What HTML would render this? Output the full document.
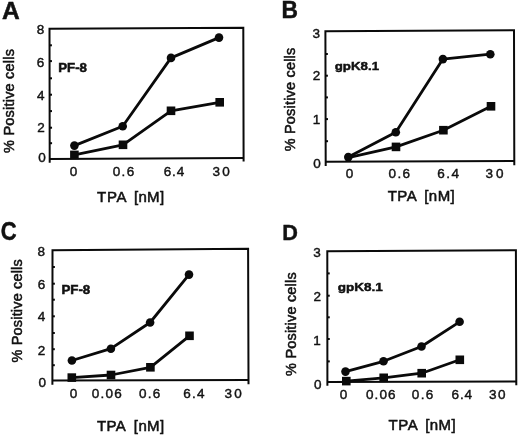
<!DOCTYPE html>
<html><head><meta charset="utf-8"><style>
html,body{margin:0;padding:0;background:#fff;}
svg{display:block;font-family:"Liberation Sans",sans-serif;filter:blur(0.35px);}
text{stroke:#000;stroke-width:0.5px;paint-order:stroke;}
text[font-weight=bold]{stroke-width:0.5px;}
text.big{stroke-width:0.45px;}
text.tk{stroke-width:0.4px;}
</style></head><body>
<svg width="520" height="436" viewBox="0 0 520 436">
<rect width="520" height="436" fill="#fff"/>
<polyline points="49.7,162.8 49.5,28.8 243.3,27.7 243.6,161.4" fill="none" stroke="#0a0a0a" stroke-width="2.0" stroke-linejoin="miter"/>
<line x1="49.7" y1="158.9" x2="243.6" y2="158.0" stroke="#0a0a0a" stroke-width="2.0"/>
<line x1="49.52536510376633" y1="45.3" x2="51.92536510376633" y2="45.3" stroke="#0a0a0a" stroke-width="2.0"/>
<line x1="49.54965411222137" y1="61.1" x2="51.94965411222137" y2="61.1" stroke="#0a0a0a" stroke-width="2.0"/>
<line x1="49.576095311299" y1="78.3" x2="51.976095311299" y2="78.3" stroke="#0a0a0a" stroke-width="2.0"/>
<line x1="49.60130668716372" y1="94.7" x2="52.00130668716372" y2="94.7" stroke="#0a0a0a" stroke-width="2.0"/>
<line x1="49.62651806302844" y1="111.1" x2="52.02651806302844" y2="111.1" stroke="#0a0a0a" stroke-width="2.0"/>
<line x1="49.65203689469639" y1="127.7" x2="52.052036894696386" y2="127.7" stroke="#0a0a0a" stroke-width="2.0"/>
<line x1="49.67586471944658" y1="143.2" x2="52.07586471944658" y2="143.2" stroke="#0a0a0a" stroke-width="2.0"/>
<polyline points="74.4,154.9 123,144.8 171,110.8 219.7,102.3" fill="none" stroke="#0a0a0a" stroke-width="2.8" stroke-linejoin="round"/>
<polyline points="74.4,145.6 122.7,126.2 171,57.9 219,37.6" fill="none" stroke="#0a0a0a" stroke-width="2.8" stroke-linejoin="round"/>
<rect x="70.10" y="150.60" width="8.6" height="8.6" fill="#0a0a0a"/>
<rect x="118.70" y="140.50" width="8.6" height="8.6" fill="#0a0a0a"/>
<rect x="166.70" y="106.50" width="8.6" height="8.6" fill="#0a0a0a"/>
<rect x="215.40" y="98.00" width="8.6" height="8.6" fill="#0a0a0a"/>
<circle cx="74.4" cy="145.6" r="4.3" fill="#0a0a0a"/>
<circle cx="122.7" cy="126.2" r="4.3" fill="#0a0a0a"/>
<circle cx="171" cy="57.9" r="4.3" fill="#0a0a0a"/>
<circle cx="219" cy="37.6" r="4.3" fill="#0a0a0a"/>
<polyline points="325.7,166.0 325.4,31.2 514.0,30.2 514.3,165.3" fill="none" stroke="#0a0a0a" stroke-width="2.0" stroke-linejoin="miter"/>
<line x1="325.7" y1="161.8" x2="514.3" y2="161.0" stroke="#0a0a0a" stroke-width="2.0"/>
<line x1="325.4523736600306" y1="54.0" x2="327.8523736600306" y2="54.0" stroke="#0a0a0a" stroke-width="2.0"/>
<line x1="325.5022205206738" y1="75.7" x2="327.9022205206738" y2="75.7" stroke="#0a0a0a" stroke-width="2.0"/>
<line x1="325.552067381317" y1="97.4" x2="327.95206738131697" y2="97.4" stroke="#0a0a0a" stroke-width="2.0"/>
<line x1="325.6019142419602" y1="119.1" x2="328.00191424196015" y2="119.1" stroke="#0a0a0a" stroke-width="2.0"/>
<line x1="325.65267993874426" y1="141.2" x2="328.05267993874423" y2="141.2" stroke="#0a0a0a" stroke-width="2.0"/>
<polyline points="348.3,157.6 396,146.9 443.4,130.2 491,106.3" fill="none" stroke="#0a0a0a" stroke-width="2.8" stroke-linejoin="round"/>
<polyline points="348.3,157.1 395.8,132.3 442.9,59.1 490.3,54.2" fill="none" stroke="#0a0a0a" stroke-width="2.8" stroke-linejoin="round"/>
<rect x="391.70" y="142.60" width="8.6" height="8.6" fill="#0a0a0a"/>
<rect x="439.10" y="125.90" width="8.6" height="8.6" fill="#0a0a0a"/>
<rect x="486.70" y="102.00" width="8.6" height="8.6" fill="#0a0a0a"/>
<circle cx="348.3" cy="157.1" r="4.3" fill="#0a0a0a"/>
<circle cx="395.8" cy="132.3" r="4.3" fill="#0a0a0a"/>
<circle cx="442.9" cy="59.1" r="4.3" fill="#0a0a0a"/>
<circle cx="490.3" cy="54.2" r="4.3" fill="#0a0a0a"/>
<polyline points="52.4,384.7 52.5,250.2 248.1,248.7 248.5,384.2" fill="none" stroke="#0a0a0a" stroke-width="2.0" stroke-linejoin="miter"/>
<line x1="52.4" y1="380.6" x2="248.5" y2="380.0" stroke="#0a0a0a" stroke-width="2.0"/>
<line x1="52.48711656441718" y1="267.0" x2="54.88711656441718" y2="267.0" stroke="#0a0a0a" stroke-width="2.0"/>
<line x1="52.47430981595092" y1="283.7" x2="54.874309815950916" y2="283.7" stroke="#0a0a0a" stroke-width="2.0"/>
<line x1="52.46203987730061" y1="299.7" x2="54.86203987730061" y2="299.7" stroke="#0a0a0a" stroke-width="2.0"/>
<line x1="52.44930981595092" y1="316.3" x2="54.84930981595092" y2="316.3" stroke="#0a0a0a" stroke-width="2.0"/>
<line x1="52.436503067484665" y1="333.0" x2="54.836503067484664" y2="333.0" stroke="#0a0a0a" stroke-width="2.0"/>
<line x1="52.42407975460122" y1="349.2" x2="54.82407975460122" y2="349.2" stroke="#0a0a0a" stroke-width="2.0"/>
<line x1="52.41180981595092" y1="365.2" x2="54.811809815950916" y2="365.2" stroke="#0a0a0a" stroke-width="2.0"/>
<polyline points="71.8,377.6 111,375.0 150.4,367.3 189.5,335.8" fill="none" stroke="#0a0a0a" stroke-width="2.8" stroke-linejoin="round"/>
<polyline points="71.9,360.5 110.9,348.7 150.1,322.5 189,274.6" fill="none" stroke="#0a0a0a" stroke-width="2.8" stroke-linejoin="round"/>
<rect x="67.50" y="373.30" width="8.6" height="8.6" fill="#0a0a0a"/>
<rect x="106.70" y="370.70" width="8.6" height="8.6" fill="#0a0a0a"/>
<rect x="146.10" y="363.00" width="8.6" height="8.6" fill="#0a0a0a"/>
<rect x="185.20" y="331.50" width="8.6" height="8.6" fill="#0a0a0a"/>
<circle cx="71.9" cy="360.5" r="4.3" fill="#0a0a0a"/>
<circle cx="110.9" cy="348.7" r="4.3" fill="#0a0a0a"/>
<circle cx="150.1" cy="322.5" r="4.3" fill="#0a0a0a"/>
<circle cx="189" cy="274.6" r="4.3" fill="#0a0a0a"/>
<polyline points="327.4,385.8 327.3,251.3 515.9,250.2 516.3,385.3" fill="none" stroke="#0a0a0a" stroke-width="2.0" stroke-linejoin="miter"/>
<line x1="327.4" y1="382.0" x2="516.3" y2="381.5" stroke="#0a0a0a" stroke-width="2.0"/>
<line x1="327.31690895179804" y1="273.4" x2="329.716908951798" y2="273.4" stroke="#0a0a0a" stroke-width="2.0"/>
<line x1="327.33397092578423" y1="295.7" x2="329.7339709257842" y2="295.7" stroke="#0a0a0a" stroke-width="2.0"/>
<line x1="327.3504973221117" y1="317.3" x2="329.7504973221117" y2="317.3" stroke="#0a0a0a" stroke-width="2.0"/>
<line x1="327.36710022953326" y1="339.0" x2="329.76710022953324" y2="339.0" stroke="#0a0a0a" stroke-width="2.0"/>
<line x1="327.3842387146136" y1="361.4" x2="329.7842387146136" y2="361.4" stroke="#0a0a0a" stroke-width="2.0"/>
<polyline points="346.3,381.1 383.7,377.8 421.7,373.2 459.8,359.8" fill="none" stroke="#0a0a0a" stroke-width="2.8" stroke-linejoin="round"/>
<polyline points="345.5,371.6 383.5,361.3 421.5,346.5 459.6,321.8" fill="none" stroke="#0a0a0a" stroke-width="2.8" stroke-linejoin="round"/>
<rect x="342.00" y="376.80" width="8.6" height="8.6" fill="#0a0a0a"/>
<rect x="379.40" y="373.50" width="8.6" height="8.6" fill="#0a0a0a"/>
<rect x="417.40" y="368.90" width="8.6" height="8.6" fill="#0a0a0a"/>
<rect x="455.50" y="355.50" width="8.6" height="8.6" fill="#0a0a0a"/>
<circle cx="345.5" cy="371.6" r="4.3" fill="#0a0a0a"/>
<circle cx="383.5" cy="361.3" r="4.3" fill="#0a0a0a"/>
<circle cx="421.5" cy="346.5" r="4.3" fill="#0a0a0a"/>
<circle cx="459.6" cy="321.8" r="4.3" fill="#0a0a0a"/>
<text class="big" transform="translate(1.88,18.54) scale(1.0247,0.9716)" font-size="24" font-weight="bold" fill="#111">A</text>
<text class="tk" x="36.75" y="33.95" font-size="13.5" font-weight="normal" letter-spacing="0.00" fill="#111">8</text>
<text class="tk" x="36.75" y="66.95" font-size="13.5" font-weight="normal" letter-spacing="0.00" fill="#111">6</text>
<text class="tk" x="36.89" y="99.69" font-size="13.5" font-weight="normal" letter-spacing="0.00" fill="#111">4</text>
<text class="tk" x="37.30" y="131.71" font-size="13.5" font-weight="normal" letter-spacing="0.00" fill="#111">2</text>
<text class="tk" x="38.15" y="161.70" font-size="13.5" font-weight="normal" letter-spacing="0.00" fill="#111">0</text>
<text class="tk" x="69.75" y="175.50" font-size="13.5" font-weight="normal" letter-spacing="0.00" fill="#111">0</text>
<text class="tk" x="112.77" y="175.50" font-size="13.5" font-weight="normal" letter-spacing="1.33" fill="#111">0.6</text>
<text class="tk" x="163.81" y="175.50" font-size="13.5" font-weight="normal" letter-spacing="0.81" fill="#111">6.4</text>
<text class="tk" x="212.39" y="175.50" font-size="13.5" font-weight="normal" letter-spacing="2.33" fill="#111">30</text>
<text transform="translate(58.21,72.10) scale(1.0223,0.9616)" font-size="13" font-weight="bold" fill="#111">PF-8</text>
<text transform="translate(13.90,152.92) rotate(-90)" x="0" y="0" font-size="14.5" letter-spacing="0.21" fill="#111">% Positive cells</text>
<text x="97.06" y="201.72" font-size="15" font-weight="normal" letter-spacing="0.70" fill="#111" >TPA</text>
<text x="134.03" y="201.82" font-size="15" font-weight="normal" letter-spacing="0.29" fill="#111" >[nM]</text>
<text class="big" transform="translate(281.58,18.20) scale(0.9493,0.9922)" font-size="24" font-weight="bold" fill="#111">B</text>
<text class="tk" x="312.54" y="37.50" font-size="13.5" font-weight="normal" letter-spacing="0.00" fill="#111">3</text>
<text class="tk" x="312.70" y="79.81" font-size="13.5" font-weight="normal" letter-spacing="0.00" fill="#111">2</text>
<text class="tk" x="312.86" y="124.49" font-size="13.5" font-weight="normal" letter-spacing="0.00" fill="#111">1</text>
<text class="tk" x="313.20" y="167.70" font-size="13.5" font-weight="normal" letter-spacing="0.00" fill="#111">0</text>
<text class="tk" x="345.85" y="177.50" font-size="13.5" font-weight="normal" letter-spacing="0.00" fill="#111">0</text>
<text class="tk" x="388.47" y="177.50" font-size="13.5" font-weight="normal" letter-spacing="1.43" fill="#111">0.6</text>
<text class="tk" x="437.31" y="177.50" font-size="13.5" font-weight="normal" letter-spacing="1.41" fill="#111">6.4</text>
<text class="tk" x="485.49" y="177.50" font-size="13.5" font-weight="normal" letter-spacing="3.03" fill="#111">30</text>
<text transform="translate(334.75,69.50) scale(1.0225,0.8386)" font-size="13" font-weight="bold" fill="#111">gpK8.1</text>
<text transform="translate(295.30,151.32) rotate(-90)" x="0" y="0" font-size="14.5" letter-spacing="0.19" fill="#111">% Positive cells</text>
<text x="387.66" y="200.52" font-size="15" font-weight="normal" letter-spacing="0.50" fill="#111" >TPA</text>
<text x="424.23" y="200.62" font-size="15" font-weight="normal" letter-spacing="0.46" fill="#111" >[nM]</text>
<text class="big" transform="translate(0.84,240.24) scale(0.9154,1.0479)" font-size="24" font-weight="bold" fill="#111">C</text>
<text class="tk" x="37.55" y="255.95" font-size="13.5" font-weight="normal" letter-spacing="0.00" fill="#111">8</text>
<text class="tk" x="37.75" y="288.50" font-size="13.5" font-weight="normal" letter-spacing="0.00" fill="#111">6</text>
<text class="tk" x="37.69" y="321.39" font-size="13.5" font-weight="normal" letter-spacing="0.00" fill="#111">4</text>
<text class="tk" x="37.80" y="354.56" font-size="13.5" font-weight="normal" letter-spacing="0.00" fill="#111">2</text>
<text class="tk" x="38.60" y="386.65" font-size="13.5" font-weight="normal" letter-spacing="0.00" fill="#111">0</text>
<text class="tk" x="69.85" y="398.25" font-size="13.5" font-weight="normal" letter-spacing="0.00" fill="#111">0</text>
<text class="tk" x="91.77" y="398.25" font-size="13.5" font-weight="normal" letter-spacing="1.22" fill="#111">0.06</text>
<text class="tk" x="138.97" y="398.25" font-size="13.5" font-weight="normal" letter-spacing="1.28" fill="#111">0.6</text>
<text class="tk" x="183.21" y="398.25" font-size="13.5" font-weight="normal" letter-spacing="1.26" fill="#111">6.4</text>
<text class="tk" x="224.54" y="398.25" font-size="13.5" font-weight="normal" letter-spacing="2.18" fill="#111">30</text>
<text transform="translate(61.41,293.70) scale(1.0260,0.9392)" font-size="13" font-weight="bold" fill="#111">PF-8</text>
<text transform="translate(22.30,362.52) rotate(-90)" x="0" y="0" font-size="14.5" letter-spacing="0.17" fill="#111">% Positive cells</text>
<text x="96.96" y="430.82" font-size="15" font-weight="normal" letter-spacing="0.40" fill="#111" >TPA</text>
<text x="133.83" y="430.92" font-size="15" font-weight="normal" letter-spacing="0.39" fill="#111" >[nM]</text>
<text class="big" transform="translate(282.26,239.86) scale(0.9041,0.9306)" font-size="24" font-weight="bold" fill="#111">D</text>
<text class="tk" x="313.34" y="257.25" font-size="13.5" font-weight="normal" letter-spacing="0.00" fill="#111">3</text>
<text class="tk" x="313.60" y="300.66" font-size="13.5" font-weight="normal" letter-spacing="0.00" fill="#111">2</text>
<text class="tk" x="313.21" y="344.59" font-size="13.5" font-weight="normal" letter-spacing="0.00" fill="#111">1</text>
<text class="tk" x="313.95" y="388.65" font-size="13.5" font-weight="normal" letter-spacing="0.00" fill="#111">0</text>
<text class="tk" x="339.65" y="398.60" font-size="13.5" font-weight="normal" letter-spacing="0.00" fill="#111">0</text>
<text class="tk" x="366.07" y="398.60" font-size="13.5" font-weight="normal" letter-spacing="1.05" fill="#111">0.06</text>
<text class="tk" x="411.87" y="398.60" font-size="13.5" font-weight="normal" letter-spacing="1.28" fill="#111">0.6</text>
<text class="tk" x="451.61" y="398.60" font-size="13.5" font-weight="normal" letter-spacing="0.86" fill="#111">6.4</text>
<text class="tk" x="488.99" y="398.60" font-size="13.5" font-weight="normal" letter-spacing="1.63" fill="#111">30</text>
<text transform="translate(337.74,290.90) scale(1.0413,0.8050)" font-size="13" font-weight="bold" fill="#111">gpK8.1</text>
<text transform="translate(296.30,375.92) rotate(-90)" x="0" y="0" font-size="14.5" letter-spacing="0.19" fill="#111">% Positive cells</text>
<text x="388.56" y="429.62" font-size="15" font-weight="normal" letter-spacing="0.60" fill="#111" >TPA</text>
<text x="425.23" y="429.72" font-size="15" font-weight="normal" letter-spacing="0.39" fill="#111" >[nM]</text>
</svg>
</body></html>
